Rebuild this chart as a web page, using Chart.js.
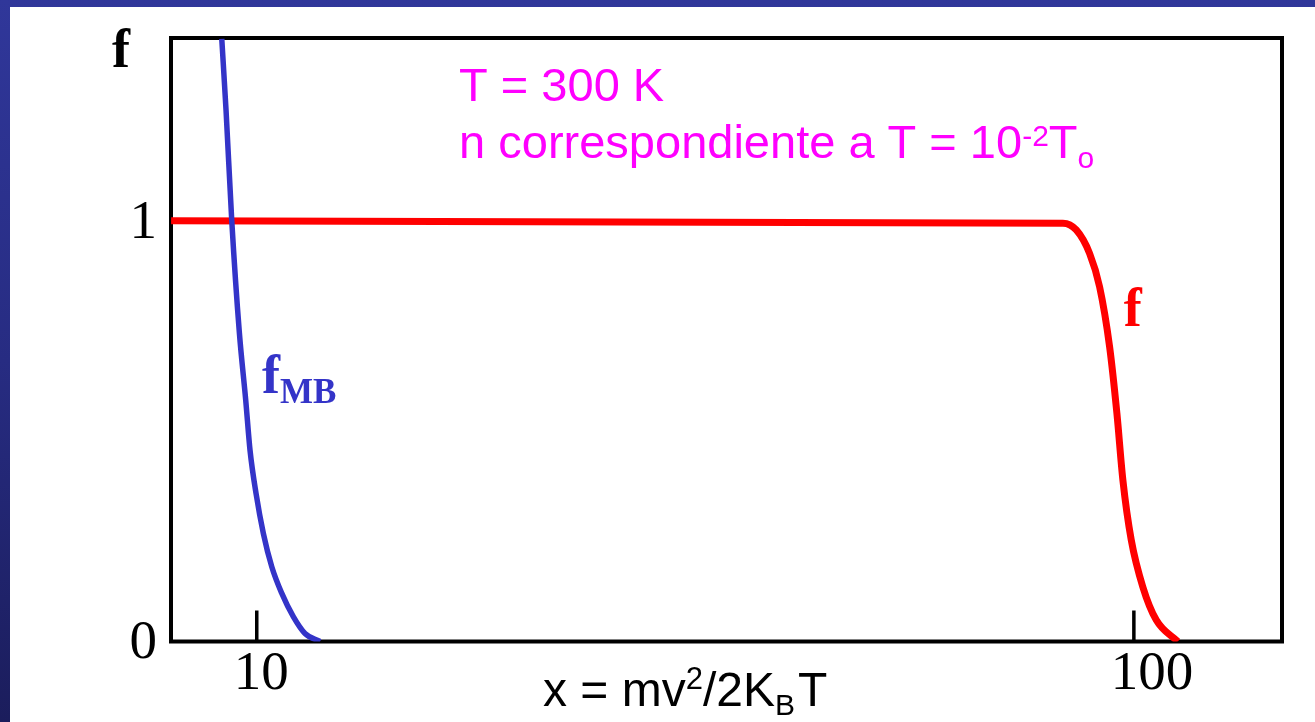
<!DOCTYPE html>
<html>
<head>
<meta charset="utf-8">
<script src="https://cdn.jsdelivr.net/npm/chart.js@4/dist/chart.umd.min.js"></script>
<style>
  html, body { margin: 0; padding: 0; }
  body {
    width: 1315px; height: 722px; overflow: hidden; position: relative;
    background: linear-gradient(to bottom, #30379a 0%, #272c82 50%, #1b1d5c 100%);
  }
  #panel { position: absolute; left: 10px; top: 7px; right: 0; bottom: 0; background: #fff; }
  #chart { position: absolute; left: 0; top: 0; }
</style>
</head>
<body>
<div id="panel"></div>
<canvas id="chart" width="1315" height="722"></canvas>
<script>
// Maxwell-Boltzmann occupation vs x = mv^2/2kT
var mbX = [6.41, 6.85, 7.44, 8.22, 8.87, 9.31, 9.93, 10.68, 11.54, 12.56, 13.75, 14.95, 16.5];
var mbF = [1.435, 1.264, 1.0, 0.734, 0.574, 0.455, 0.352, 0.257, 0.178, 0.115, 0.059, 0.019, 0.0];

// Fermi-Dirac occupation, same density
var fdX = [1.21, 92.72, 94.09, 95.46, 96.48, 97.51, 98.26, 98.87, 99.73, 100.92, 102.3, 104.5];
var fdF = [1.002, 0.996, 0.980, 0.924, 0.845, 0.702, 0.543, 0.385, 0.242, 0.130, 0.051, 0.0];

var xTickVals = [10, 100];
var xTickText = ['10', '100'];
var yTickVals = [0, 1];
var yTickText = ['0', '1'];

var xMin = 1.2, xMax = 115.2;
var yMin = 0, yMax = 1.437;

var BLUE = '#3434c8';
var RED = '#ff0000';
var MAGENTA = '#ff00ff';
var SANS = '"Liberation Sans", Arial, sans-serif';
var SERIF = '"Liberation Serif", "Times New Roman", serif';

function pts(xs, ys) {
  return xs.map(function(x, i) { return { x: x, y: ys[i] }; });
}

// draw a row of text pieces, some raised or lowered
function drawRuns(ctx, x, y, runs) {
  runs.forEach(function(r) {
    ctx.font = r.font;
    ctx.fillText(r.t, x, y + (r.dy || 0));
    x += ctx.measureText(r.t).width + (r.gap || 0);
  });
}

var framePlugin = {
  id: 'frame',
  beforeDatasetsDraw: function(chart) {
    var ctx = chart.ctx, a = chart.chartArea, xs = chart.scales.x;
    ctx.save();
    ctx.strokeStyle = '#000';
    ctx.lineWidth = 4;
    ctx.strokeRect(a.left, a.top, a.right - a.left, a.bottom - a.top);
    // inward tick marks on the bottom axis
    ctx.lineWidth = 3.5;
    xTickVals.forEach(function(v) {
      var px = xs.getPixelForValue(v);
      ctx.beginPath();
      ctx.moveTo(px, a.bottom);
      ctx.lineTo(px, a.bottom - 31);
      ctx.stroke();
    });
    ctx.restore();
  },
  afterDatasetsDraw: function(chart) {
    var ctx = chart.ctx, a = chart.chartArea;
    var xs = chart.scales.x, ys = chart.scales.y;
    ctx.save();
    ctx.textBaseline = 'alphabetic';

    // tick labels
    ctx.fillStyle = '#000';
    ctx.font = '55px ' + SERIF;
    ctx.textAlign = 'left';
    xTickVals.forEach(function(v, i) {
      ctx.fillText(xTickText[i], xs.getPixelForValue(v) - 23, a.bottom + 47.5);
    });
    ctx.textAlign = 'right';
    yTickVals.forEach(function(v, i) {
      ctx.fillText(yTickText[i], a.left - 14, ys.getPixelForValue(v) + 16);
    });

    // axis titles
    ctx.textAlign = 'left';
    ctx.font = 'bold 54px ' + SERIF;
    ctx.fillText('f', a.left - 59, a.top + 29);

    drawRuns(ctx, 543, 706, [
      { t: 'x = mv', font: '48px ' + SANS },
      { t: '2', font: '31px ' + SANS, dy: -17 },
      { t: '/2K', font: '48px ' + SANS },
      { t: 'B', font: '30px ' + SANS, dy: 9, gap: 3 },
      { t: 'T', font: '48px ' + SANS }
    ]);

    // curve labels
    ctx.fillStyle = BLUE;
    drawRuns(ctx, xs.getPixelForValue(10.54), ys.getPixelForValue(0.592), [
      { t: 'f', font: 'bold 54px ' + SERIF },
      { t: 'MB', font: 'bold 35px ' + SERIF, dy: 10 }
    ]);
    ctx.fillStyle = RED;
    ctx.font = 'bold 54px ' + SERIF;
    ctx.fillText('f', xs.getPixelForValue(98.96), ys.getPixelForValue(0.751));

    // conditions
    ctx.fillStyle = MAGENTA;
    var tx = xs.getPixelForValue(30.76);
    ctx.font = '47px ' + SANS;
    ctx.fillText('T = 300 K', tx, ys.getPixelForValue(1.287));
    drawRuns(ctx, tx, ys.getPixelForValue(1.151), [
      { t: 'n correspondiente a T = 10', font: '47px ' + SANS },
      { t: '-2', font: '30px ' + SANS, dy: -12 },
      { t: 'T', font: '47px ' + SANS },
      { t: 'o', font: '30px ' + SANS, dy: 10 }
    ]);
    ctx.restore();
  }
};

new Chart(document.getElementById('chart'), {
  type: 'line',
  data: {
    datasets: [
      {
        label: 'fMB',
        data: pts(mbX, mbF),
        borderColor: BLUE,
        borderWidth: 5.5,
        pointRadius: 0,
        cubicInterpolationMode: 'monotone',
        fill: false
      },
      {
        label: 'f',
        data: pts(fdX, fdF),
        borderColor: RED,
        borderWidth: 7,
        pointRadius: 0,
        cubicInterpolationMode: 'monotone',
        fill: false
      }
    ]
  },
  options: {
    responsive: false,
    animation: false,
    events: [],
    layout: { padding: { left: 171, top: 38, right: 33, bottom: 80.5 } },
    plugins: { legend: { display: false }, tooltip: { enabled: false } },
    scales: {
      x: { type: 'linear', min: xMin, max: xMax, display: false },
      y: { type: 'linear', min: yMin, max: yMax, display: false }
    }
  },
  plugins: [framePlugin]
});
</script>
</body>
</html>
